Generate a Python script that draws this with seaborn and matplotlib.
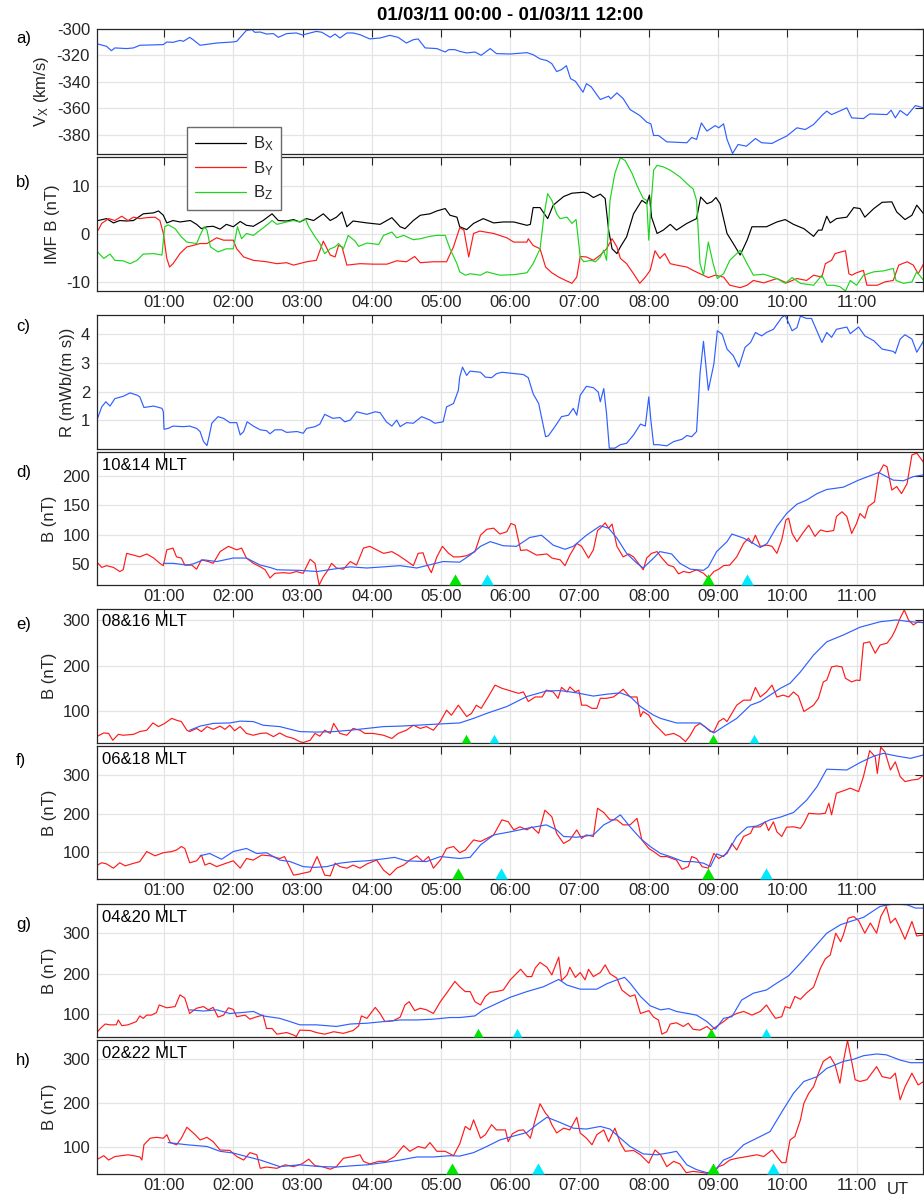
import matplotlib
matplotlib.use("Agg")
import matplotlib.pyplot as plt
from matplotlib.lines import Line2D
import seaborn as sns
import pandas as pd

# ---------------- data (time in hours UT, values) ----------------
vx = [(0.04,-311.3),(0.17,-313.1),(0.24,-316.4),(0.29,-314.3),(0.46,-314.8),(0.56,-314.3),(0.65,-312.3),
      (0.99,-311.8),(1.04,-309.8),(1.13,-310.1),(1.23,-308.6),(1.28,-309.3),(1.37,-306.3),(1.42,-308.1),
      (1.52,-312.3),(1.76,-310.6),(2.00,-309.8),(2.05,-309.3),(2.19,-301.0),(2.27,-300.5),(2.31,-302.5),
      (2.39,-302.3),(2.48,-303.8),(2.58,-303.5),(2.65,-306.3),(2.77,-303.5),(2.91,-303.0),(3.00,-304.5),
      (3.11,-303.0),(3.20,-301.8),(3.28,-302.5),(3.40,-306.3),(3.47,-303.8),(3.54,-306.8),(3.64,-303.0),
      (3.73,-303.0),(3.83,-304.3),(3.97,-307.5),(4.12,-306.8),(4.26,-304.8),(4.38,-306.3),(4.50,-310.6),
      (4.60,-308.1),(4.67,-307.5),(4.77,-314.3),(4.94,-314.8),(5.06,-317.4),(5.11,-315.6),(5.20,-315.6),
      (5.27,-316.9),(5.37,-318.1),(5.49,-317.4),(5.58,-319.9),(5.71,-314.8),(5.80,-318.6),(6.00,-318.9),
      (6.24,-317.9),(6.33,-319.4),(6.43,-322.6),(6.53,-323.9),(6.60,-326.2),(6.67,-332.2),(6.74,-330.7),
      (6.81,-327.7),(6.87,-337.5),(6.94,-339.5),(7.05,-347.8),(7.10,-341.3),(7.17,-343.8),(7.30,-353.3),
      (7.42,-350.8),(7.45,-352.8),(7.54,-348.3),(7.63,-352.6),(7.73,-360.9),(7.87,-365.4),(7.97,-370.4),
      (8.03,-371.7),(8.07,-380.5),(8.14,-380.5),(8.26,-385.3),(8.55,-386.0),(8.62,-382.0),(8.69,-383.5),
      (8.76,-371.0),(8.84,-377.2),(8.96,-373.0),(9.01,-374.7),(9.08,-371.7),(9.13,-383.5),(9.21,-394.1),
      (9.29,-387.3),(9.41,-388.6),(9.54,-382.8),(9.63,-386.0),(9.78,-386.5),(9.87,-384.0),(9.99,-381.0),
      (10.14,-374.7),(10.26,-376.0),(10.38,-372.2),(10.50,-365.4),(10.57,-362.1),(10.64,-364.7),
      (10.86,-359.6),(10.93,-367.2),(11.10,-367.7),(11.19,-364.2),(11.44,-364.7),(11.50,-361.4),
      (11.56,-367.2),(11.63,-361.6),(11.73,-365.4),(11.85,-357.9),(11.97,-359.6)]

bx = [(0.05,2.8),(0.17,3.2),(0.27,2.3),(0.36,2.8),(0.46,2.7),(0.56,2.8),(0.70,4.2),(0.85,4.4),(0.92,4.8),
      (0.99,3.9),(1.04,2.3),(1.13,2.8),(1.23,2.5),(1.38,2.8),(1.47,2.0),(1.54,1.1),(1.62,1.5),(1.71,1.6),
      (1.81,1.0),(1.90,2.0),(2.00,1.5),(2.10,2.6),(2.19,1.8),(2.29,1.6),(2.43,2.8),(2.56,4.2),(2.65,2.8),
      (2.77,2.7),(2.87,3.0),(2.96,2.5),(3.06,3.2),(3.16,2.8),(3.30,4.2),(3.40,2.8),(3.49,3.5),(3.57,4.6),
      (3.64,1.5),(3.73,2.7),(3.93,2.3),(4.12,2.0),(4.29,3.4),(4.41,1.5),(4.48,1.1),(4.60,2.8),(4.70,3.9),
      (4.84,4.2),(4.94,4.8),(5.06,5.3),(5.13,3.9),(5.23,3.5),(5.27,1.5),(5.37,0.9),(5.47,2.2),(5.61,3.2),
      (5.76,2.3),(5.90,2.5),(6.05,2.5),(6.24,1.8),(6.29,2.0),(6.33,5.5),(6.43,5.5),(6.54,3.2),(6.62,6.0),
      (6.77,7.8),(6.89,8.5),(7.06,8.7),(7.12,8.4),(7.20,7.6),(7.30,8.3),(7.37,7.4),(7.42,0.8),(7.47,-3.1),
      (7.54,-4.1),(7.59,-2.7),(7.68,-0.6),(7.78,4.2),(7.90,7.0),(7.97,6.3),(8.01,8.1),(8.04,3.5),(8.12,0.1),
      (8.21,0.8),(8.31,2.0),(8.40,0.8),(8.55,2.2),(8.69,3.2),(8.75,7.7),(8.84,6.3),(8.91,6.7),(8.97,7.6),
      (9.03,6.3),(9.13,0.1),(9.22,-2.0),(9.32,-4.4),(9.42,-1.3),(9.49,1.5),(9.70,1.5),(9.85,2.5),(9.97,3.0),
      (10.09,2.0),(10.24,1.1),(10.38,-0.5),(10.45,0.8),(10.50,0.8),(10.57,3.7),(10.62,2.3),(10.71,3.2),
      (10.86,3.5),(10.96,5.5),(11.05,5.3),(11.12,3.5),(11.25,5.3),(11.37,6.6),(11.51,6.7),(11.58,4.6),
      (11.70,3.0),(11.80,3.9),(11.87,6.0),(11.97,4.2)]

by = [(0.05,0.8),(0.10,2.2),(0.20,3.2),(0.29,2.8),(0.39,3.7),(0.48,2.8),(0.56,3.5),(0.65,3.2),(0.75,3.4),
      (0.87,3.5),(0.94,2.8),(0.99,0.1),(1.04,-5.1),(1.08,-6.9),(1.13,-6.2),(1.23,-4.1),(1.33,-2.7),
      (1.42,-2.4),(1.52,-2.0),(1.62,-2.0),(1.76,-0.8),(1.86,-1.3),(2.00,-1.3),(2.05,-3.1),(2.15,-4.8),
      (2.29,-5.5),(2.48,-5.8),(2.63,-6.2),(2.77,-6.0),(2.87,-6.5),(3.06,-5.8),(3.20,-5.5),(3.30,-1.5),
      (3.40,-4.4),(3.47,-4.8),(3.52,-2.4),(3.57,-2.7),(3.64,-6.5),(3.83,-6.2),(4.02,-6.3),(4.22,-6.3),
      (4.36,-5.6),(4.50,-5.8),(4.62,-4.7),(4.70,-6.0),(4.89,-5.8),(5.08,-5.8),(5.18,-2.7),(5.27,1.3),
      (5.33,0.8),(5.40,-4.8),(5.47,0.1),(5.56,0.6),(5.76,0.1),(5.95,-0.8),(6.05,-1.7),(6.24,-1.7),
      (6.26,-1.0),(6.33,-2.4),(6.43,-3.1),(6.51,-6.9),(6.60,-8.1),(6.70,-9.0),(6.77,-9.5),(6.89,-10.3),
      (6.96,-9.0),(7.01,-4.7),(7.10,-4.8),(7.20,-5.5),(7.30,-4.4),(7.39,-3.1),(7.47,-1.0),(7.54,-2.7),
      (7.59,-5.1),(7.68,-6.2),(7.78,-8.3),(7.87,-10.3),(7.95,-9.0),(8.02,-7.6),(8.09,-3.5),(8.16,-5.1),
      (8.23,-4.1),(8.31,-6.2),(8.40,-6.5),(8.55,-6.9),(8.64,-7.6),(8.74,-8.3),(8.86,-9.1),(8.96,-8.6),
      (9.08,-9.0),(9.17,-10.7),(9.32,-11.2),(9.42,-10.7),(9.51,-9.7),(9.66,-10.2),(9.85,-9.3),(9.99,-10.2),
      (10.14,-9.3),(10.28,-9.7),(10.38,-8.6),(10.50,-9.0),(10.55,-6.2),(10.64,-5.5),(10.69,-4.1),
      (10.84,-3.5),(10.89,-8.3),(10.93,-8.6),(11.00,-8.1),(11.10,-7.6),(11.15,-10.7),(11.30,-10.7),
      (11.41,-10.0),(11.53,-9.7),(11.61,-6.5),(11.73,-5.8),(11.82,-6.5),(11.89,-8.3),(11.97,-6.2)]

bz = [(0.04,-3.75),(0.13,-5.1),(0.22,-4.2),(0.29,-5.5),(0.41,-5.6),(0.51,-6.2),(0.61,-5.5),(0.70,-4.2),
      (0.85,-4.1),(0.97,-4.4),(1.01,1.5),(1.06,1.9),(1.16,1.1),(1.25,-0.6),(1.33,-1.7),(1.47,-2.0),
      (1.52,-0.3),(1.58,1.5),(1.62,0.8),(1.67,-2.7),(1.78,-3.75),(1.90,-3.1),(2.00,-3.1),(2.06,1.5),
      (2.12,-1.0),(2.19,0.1),(2.29,-0.3),(2.39,0.8),(2.48,1.8),(2.56,2.8),(2.63,2.0),(2.77,2.5),(2.87,2.8),
      (2.96,2.5),(3.04,3.2),(3.09,1.5),(3.18,-0.6),(3.25,-2.0),(3.32,-4.1),(3.40,-3.1),(3.47,-2.7),
      (3.52,-2.0),(3.59,-3.1),(3.66,-0.3),(3.76,-1.5),(3.81,-2.6),(3.93,-1.9),(4.10,-2.2),(4.17,-0.3),
      (4.29,0.4),(4.36,-0.8),(4.46,-0.3),(4.60,-1.2),(4.70,-1.0),(4.84,-0.5),(4.94,-0.3),(5.06,-0.3),
      (5.13,-3.1),(5.23,-6.2),(5.27,-7.9),(5.35,-8.6),(5.42,-8.3),(5.57,-8.6),(5.66,-7.9),(5.85,-8.6),
      (6.05,-8.5),(6.24,-8.1),(6.33,-6.2),(6.43,-3.1),(6.49,4.2),(6.54,8.4),(6.60,7.0),(6.67,4.2),
      (6.72,3.2),(6.82,3.5),(6.89,2.2),(6.95,3.0),(7.01,-4.8),(7.06,-5.8),(7.16,-5.5),(7.23,-5.8),
      (7.30,-4.8),(7.35,-3.4),(7.39,-5.5),(7.44,7.0),(7.51,12.6),(7.59,15.9),(7.66,15.3),(7.76,12.6),
      (7.83,10.1),(7.92,7.4),(7.97,7.0),(8.00,-1.3),(8.03,5.6),(8.07,13.3),(8.12,14.3),(8.21,14.0),
      (8.31,13.3),(8.45,11.9),(8.55,10.5),(8.64,9.4),(8.69,7.0),(8.74,-6.2),(8.79,-8.6),(8.86,-1.7),
      (8.93,-6.2),(8.99,-9.3),(9.08,-8.3),(9.17,-5.5),(9.32,-3.4),(9.42,-6.2),(9.51,-8.6),(9.66,-8.4),
      (9.85,-9.3),(9.97,-10.3),(10.07,-9.1),(10.19,-10.3),(10.38,-10.7),(10.50,-8.6),(10.57,-10.7),
      (10.67,-10.7),(10.76,-11.0),(10.84,-11.9),(10.91,-9.7),(11.00,-10.7),(11.10,-8.6),(11.25,-7.9),
      (11.39,-7.7),(11.53,-7.2),(11.57,-9.7),(11.68,-10.3),(11.80,-10.0),(11.87,-7.9),(11.97,-9.7)]

rr = [(0.04,1.07),(0.10,1.47),(0.16,1.65),(0.22,1.50),(0.29,1.76),(0.41,1.84),(0.51,1.96),(0.61,1.88),
      (0.65,1.82),(0.71,1.45),(0.85,1.50),(0.97,1.42),(0.99,1.30),(1.00,0.69),(1.06,0.72),(1.13,0.80),
      (1.28,0.78),(1.37,0.80),(1.47,0.72),(1.52,0.61),(1.57,0.26),(1.62,0.12),(1.65,0.43),(1.69,0.90),
      (1.78,1.13),(1.86,1.07),(1.95,0.92),(2.05,0.92),(2.10,0.49),(2.15,0.61),(2.20,0.95),(2.29,0.80),
      (2.39,0.67),(2.48,0.64),(2.53,0.53),(2.60,0.67),(2.70,0.67),(2.77,0.58),(2.92,0.61),(3.01,0.55),
      (3.06,0.72),(3.18,0.78),(3.25,0.87),(3.32,1.21),(3.44,1.07),(3.54,1.10),(3.61,0.95),(3.69,1.01),
      (3.78,1.30),(3.93,1.21),(4.05,1.30),(4.12,1.27),(4.21,0.95),(4.29,0.80),(4.36,1.01),(4.41,0.78),
      (4.50,0.92),(4.60,0.90),(4.72,1.13),(4.84,1.01),(4.91,0.90),(5.03,0.95),(5.08,1.47),(5.18,1.59),
      (5.25,2.05),(5.27,2.51),(5.31,2.86),(5.37,2.57),(5.42,2.72),(5.57,2.68),(5.64,2.51),(5.73,2.49),
      (5.80,2.63),(5.88,2.68),(6.00,2.65),(6.19,2.60),(6.26,2.49),(6.33,1.93),(6.41,1.59),(6.51,0.43),
      (6.55,0.46),(6.65,0.80),(6.74,1.13),(6.84,1.18),(6.91,1.42),(6.96,1.18),(7.01,1.88),(7.10,2.19),
      (7.20,2.14),(7.27,1.99),(7.30,1.65),(7.35,2.11),(7.39,1.24),(7.43,0.03),(7.51,0.03),(7.59,0.15),
      (7.68,0.20),(7.78,0.49),(7.88,0.87),(7.95,0.80),(8.00,1.82),(8.03,1.01),(8.07,0.15),(8.14,0.15),
      (8.26,0.11),(8.36,0.26),(8.48,0.34),(8.55,0.47),(8.62,0.43),(8.69,0.61),(8.74,2.63),(8.79,3.76),
      (8.86,2.05),(8.94,2.97),(8.99,4.13),(9.06,4.01),(9.13,3.49),(9.22,3.26),(9.30,2.86),(9.39,3.55),
      (9.47,3.72),(9.54,4.07),(9.63,3.95),(9.70,4.07),(9.80,4.18),(9.92,4.59),(9.97,4.67),(10.07,4.13),
      (10.14,4.24),(10.19,4.64),(10.28,4.56),(10.35,4.56),(10.50,3.72),(10.57,4.07),(10.64,3.90),
      (10.71,4.18),(10.86,4.26),(10.91,4.03),(11.03,4.26),(11.12,3.95),(11.25,3.78),(11.37,3.49),
      (11.53,3.41),(11.56,3.34),(11.63,3.84),(11.70,3.99),(11.80,3.84),(11.87,3.38),(11.97,3.78)]

d_obs = [(0.04,52),(0.10,44),(0.17,47),(0.27,44),(0.36,37),(0.41,40),(0.46,68),(0.56,65),(0.65,62),(0.75,67),
         (0.85,60),(0.94,51),(0.99,47),(1.04,74),(1.13,77),(1.18,62),(1.25,60),(1.30,48),(1.40,48),(1.47,41),
         (1.54,57),(1.64,54),(1.71,51),(1.81,71),(1.93,80),(2.05,74),(2.12,77),(2.19,60),(2.29,51),(2.39,45),
         (2.46,40),(2.53,26),(2.60,34),(2.72,35),(2.82,34),(2.91,37),(3.01,34),(3.11,58),(3.18,51),(3.24,14),
         (3.30,28),(3.37,40),(3.42,51),(3.49,43),(3.59,41),(3.69,54),(3.78,48),(3.88,77),(3.97,80),(4.07,74),
         (4.17,68),(4.29,71),(4.38,65),(4.48,57),(4.60,47),(4.67,68),(4.74,69),(4.79,51),(4.86,35),(4.94,62),
         (5.02,80),(5.11,68),(5.18,62),(5.27,62),(5.37,64),(5.49,71),(5.57,99),(5.66,109),(5.76,111),
         (5.85,101),(5.95,105),(6.01,119),(6.07,116),(6.15,73),(6.24,74),(6.38,65),(6.53,67),(6.60,60),
         (6.72,57),(6.79,47),(6.86,65),(6.96,85),(7.03,80),(7.13,60),(7.20,74),(7.26,107),(7.30,111),
         (7.37,120),(7.42,111),(7.47,118),(7.54,80),(7.63,62),(7.71,67),(7.78,62),(7.85,51),(7.92,40),
         (7.97,60),(8.04,68),(8.12,71),(8.19,60),(8.28,48),(8.36,45),(8.43,33),(8.50,37),(8.59,35),(8.69,40),
         (8.79,34),(8.86,26),(8.94,37),(9.01,41),(9.08,47),(9.17,48),(9.27,62),(9.37,85),(9.44,94),(9.49,85),
         (9.54,99),(9.61,80),(9.71,82),(9.78,80),(9.85,68),(9.92,91),(9.98,125),(10.02,128),(10.07,102),
         (10.14,88),(10.22,102),(10.31,116),(10.40,97),(10.48,108),(10.57,105),(10.67,107),(10.71,131),
         (10.79,139),(10.86,131),(10.93,102),(11.00,119),(11.05,136),(11.12,128),(11.17,148),(11.26,156),
         (11.32,204),(11.39,219),(11.44,216),(11.51,176),(11.58,182),(11.65,170),(11.73,187),(11.80,236),
         (11.87,239),(11.97,223)]
d_mod = [(0.99,51),(1.13,51),(1.33,48),(1.42,50),(1.57,57),(1.76,54),(2.00,60),(2.19,60),(2.39,48),(2.53,44),
         (2.63,40),(2.96,39),(3.21,37),(3.44,41),(3.69,45),(3.93,43),(4.17,45),(4.41,47),(4.65,43),(4.89,50),
         (5.03,54),(5.27,53),(5.42,65),(5.57,80),(5.71,88),(5.90,81),(6.09,80),(6.28,95),(6.45,99),(6.62,82),
         (6.79,75),(6.91,80),(7.10,99),(7.30,115),(7.42,111),(7.54,94),(7.68,68),(7.83,51),(7.92,43),(8.07,60),
         (8.16,71),(8.33,67),(8.45,51),(8.60,41),(8.79,39),(8.86,45),(8.98,71),(9.13,88),(9.20,101),(9.37,94),
         (9.51,85),(9.61,78),(9.71,85),(9.85,114),(9.99,136),(10.14,152),(10.28,159),(10.43,170),(10.57,177),
         (10.81,181),(11.03,193),(11.32,206),(11.53,193),(11.68,192),(11.82,199),(11.97,202)]

e_obs = [(0.04,45),(0.13,52),(0.20,51),(0.26,36),(0.34,49),(0.41,47),(0.56,49),(0.65,55),(0.75,58),(0.84,74),
         (0.92,66),(1.01,73),(1.11,84),(1.18,80),(1.25,77),(1.33,58),(1.37,55),(1.47,62),(1.54,55),(1.62,66),
         (1.71,60),(1.81,67),(1.88,60),(1.95,69),(2.02,57),(2.10,66),(2.19,51),(2.29,47),(2.39,51),(2.48,52),
         (2.58,44),(2.67,52),(2.77,44),(2.87,40),(2.96,33),(3.01,31),(3.11,36),(3.18,51),(3.25,45),(3.32,58),
         (3.40,51),(3.45,73),(3.54,51),(3.64,47),(3.73,62),(3.83,58),(3.90,51),(4.02,51),(4.17,47),(4.29,40),
         (4.38,51),(4.50,58),(4.60,69),(4.70,62),(4.79,66),(4.89,58),(4.99,77),(5.08,102),(5.15,91),(5.25,113),
         (5.37,88),(5.44,95),(5.51,113),(5.58,106),(5.68,131),(5.78,157),(5.88,150),(5.97,146),(6.05,142),
         (6.12,139),(6.19,142),(6.26,121),(6.36,131),(6.46,131),(6.52,146),(6.62,142),(6.69,128),(6.74,152),
         (6.82,142),(6.86,153),(6.94,142),(6.99,146),(7.03,113),(7.10,113),(7.18,106),(7.25,106),(7.30,128),
         (7.39,128),(7.49,131),(7.56,139),(7.63,148),(7.73,131),(7.83,131),(7.88,88),(7.92,99),(8.00,91),
         (8.07,73),(8.17,58),(8.24,47),(8.36,51),(8.45,44),(8.53,33),(8.60,47),(8.67,66),(8.74,73),(8.81,66),
         (8.89,55),(8.94,55),(9.01,77),(9.08,84),(9.13,77),(9.20,95),(9.27,113),(9.37,124),(9.47,124),
         (9.54,152),(9.61,131),(9.70,142),(9.78,157),(9.85,131),(9.94,135),(10.02,131),(10.09,142),(10.16,133),
         (10.24,99),(10.31,106),(10.38,113),(10.45,128),(10.52,164),(10.57,168),(10.64,197),(10.71,199),
         (10.79,197),(10.84,172),(10.93,164),(11.00,168),(11.05,167),(11.10,249),(11.19,252),(11.27,227),
         (11.34,245),(11.44,249),(11.51,263),(11.56,278),(11.63,304),(11.69,322),(11.75,300),(11.82,289),
         (11.89,296),(11.97,294)]
e_mod = [(1.37,58),(1.52,67),(1.71,73),(1.95,74),(2.10,78),(2.29,77),(2.43,69),(2.67,66),(2.96,55),(3.20,54),
         (3.45,55),(3.69,58),(3.93,62),(4.17,66),(4.41,67),(4.65,69),(4.89,71),(5.27,74),(5.47,84),(5.66,95),
         (5.95,110),(6.24,132),(6.52,144),(6.72,145),(6.96,140),(7.20,133),(7.39,137),(7.59,140),(7.73,132),
         (7.88,110),(8.07,91),(8.17,84),(8.40,74),(8.64,74),(8.74,74),(8.84,62),(8.94,52),(9.08,66),(9.27,84),
         (9.47,113),(9.61,121),(9.75,135),(9.90,150),(10.04,161),(10.19,186),(10.38,223),(10.57,252),
         (10.81,267),(11.05,284),(11.34,296),(11.58,300),(11.78,296),(11.97,294)]

f_obs = [(0.04,67),(0.10,73),(0.17,70),(0.27,59),(0.36,73),(0.44,65),(0.53,70),(0.65,76),(0.75,102),(0.87,91),
         (0.99,99),(1.11,102),(1.18,106),(1.25,115),(1.30,110),(1.37,73),(1.47,78),(1.54,93),(1.59,67),
         (1.66,72),(1.76,63),(1.90,72),(2.00,78),(2.10,59),(2.19,84),(2.29,80),(2.41,93),(2.53,91),(2.67,84),
         (2.74,89),(2.87,41),(2.96,44),(3.11,50),(3.21,89),(3.25,72),(3.32,41),(3.40,39),(3.47,72),(3.54,63),
         (3.64,59),(3.73,67),(3.83,59),(3.93,70),(4.07,80),(4.17,54),(4.26,41),(4.36,59),(4.46,67),(4.55,80),
         (4.65,91),(4.74,76),(4.82,89),(4.89,59),(4.99,80),(5.08,110),(5.18,115),(5.27,99),(5.35,106),
         (5.47,132),(5.57,128),(5.66,136),(5.76,145),(5.88,184),(5.97,179),(6.05,158),(6.14,166),(6.24,158),
         (6.31,166),(6.41,149),(6.50,209),(6.60,192),(6.67,149),(6.77,123),(6.86,132),(6.96,158),(7.03,136),
         (7.10,145),(7.20,141),(7.26,214),(7.35,203),(7.44,184),(7.54,184),(7.63,171),(7.73,171),(7.83,188),
         (7.90,132),(8.00,110),(8.07,102),(8.17,89),(8.26,89),(8.40,80),(8.48,56),(8.57,63),(8.62,89),
         (8.69,84),(8.77,63),(8.86,59),(8.94,97),(9.01,84),(9.13,97),(9.20,123),(9.27,106),(9.37,141),
         (9.47,149),(9.51,165),(9.61,166),(9.68,179),(9.73,156),(9.80,179),(9.85,153),(9.92,141),(9.99,165),
         (10.09,166),(10.19,162),(10.24,175),(10.31,201),(10.45,199),(10.55,201),(10.60,227),(10.64,197),
         (10.71,253),(10.84,261),(10.91,266),(11.03,257),(11.10,296),(11.19,363),(11.27,347),(11.30,304),
         (11.35,372),(11.41,360),(11.49,313),(11.56,334),(11.63,296),(11.70,283),(11.80,287),(11.89,289),
         (11.97,300)]
f_mod = [(1.52,91),(1.66,97),(1.83,82),(2.00,102),(2.19,110),(2.34,97),(2.48,99),(2.67,80),(2.82,76),(3.01,63),
         (3.16,61),(3.35,63),(3.54,72),(3.73,76),(3.93,78),(4.12,82),(4.33,87),(4.50,78),(4.79,76),(4.99,89),
         (5.27,84),(5.42,87),(5.57,119),(5.76,145),(6.00,153),(6.24,162),(6.52,171),(6.67,158),(6.77,141),
         (6.96,139),(7.20,145),(7.35,171),(7.49,184),(7.59,197),(7.73,166),(7.88,136),(8.02,115),(8.17,97),
         (8.31,89),(8.50,76),(8.64,76),(8.79,72),(8.89,63),(8.98,96),(9.08,89),(9.17,110),(9.27,141),
         (9.42,165),(9.56,168),(9.75,184),(9.90,191),(10.09,203),(10.28,235),(10.43,270),(10.57,315),
         (10.86,313),(11.05,332),(11.25,349),(11.39,356),(11.58,349),(11.78,343),(11.97,352)]

g_obs = [(0.04,57),(0.08,65),(0.15,76),(0.22,74),(0.31,74),(0.34,86),(0.39,72),(0.48,74),(0.60,82),(0.65,96),
         (0.70,90),(0.75,98),(0.82,98),(0.89,104),(0.93,123),(1.04,116),(1.16,119),(1.23,148),(1.30,140),
         (1.37,102),(1.47,115),(1.57,119),(1.64,111),(1.71,117),(1.78,93),(1.86,98),(1.93,116),(2.00,112),
         (2.05,94),(2.17,98),(2.24,88),(2.34,94),(2.43,98),(2.48,65),(2.56,65),(2.63,51),(2.77,55),(2.87,49),
         (2.91,45),(2.96,61),(3.11,60),(3.20,55),(3.32,51),(3.45,57),(3.59,53),(3.73,60),(3.81,71),(3.85,96),
         (3.93,90),(4.05,117),(4.12,102),(4.19,82),(4.31,84),(4.41,93),(4.48,123),(4.54,131),(4.62,109),
         (4.70,115),(4.79,111),(4.89,102),(4.99,131),(5.08,152),(5.20,181),(5.27,168),(5.35,156),(5.42,156),
         (5.49,131),(5.57,123),(5.64,144),(5.71,154),(5.80,156),(5.90,160),(6.00,185),(6.15,211),(6.24,193),
         (6.31,193),(6.36,214),(6.43,228),(6.53,216),(6.60,197),(6.70,241),(6.74,183),(6.82,197),(6.86,216),
         (6.94,191),(7.01,203),(7.08,185),(7.13,211),(7.20,193),(7.30,203),(7.37,222),(7.44,200),(7.54,189),
         (7.61,160),(7.73,144),(7.80,148),(7.88,102),(8.00,109),(8.07,93),(8.14,86),(8.19,51),(8.26,57),
         (8.31,76),(8.40,79),(8.50,70),(8.57,78),(8.64,63),(8.74,61),(8.84,70),(8.90,61),(8.98,70),(9.08,82),
         (9.17,94),(9.27,102),(9.37,107),(9.49,98),(9.61,107),(9.70,123),(9.78,102),(9.83,90),(9.92,94),
         (9.97,119),(10.04,115),(10.11,144),(10.19,137),(10.28,153),(10.38,167),(10.48,214),(10.55,237),
         (10.62,246),(10.70,300),(10.77,279),(10.81,296),(10.88,337),(10.96,341),(11.03,331),(11.12,300),
         (11.20,325),(11.29,300),(11.35,341),(11.43,366),(11.49,325),(11.56,337),(11.63,312),(11.70,285),
         (11.80,329),(11.87,293),(11.97,296)]
g_mod = [(1.37,111),(1.57,108),(1.76,111),(1.95,102),(2.10,104),(2.29,107),(2.43,96),(2.67,90),(2.82,82),
         (2.96,74),(3.20,74),(3.49,70),(3.69,76),(3.93,78),(4.17,82),(4.41,86),(4.65,86),(4.89,88),(5.13,92),
         (5.27,92),(5.49,96),(5.61,111),(5.76,123),(6.00,142),(6.24,156),(6.48,168),(6.70,186),(6.82,172),
         (7.01,162),(7.25,162),(7.39,175),(7.54,185),(7.65,191),(7.73,177),(7.88,144),(8.02,121),(8.17,111),
         (8.29,114),(8.40,107),(8.69,98),(8.84,82),(8.96,63),(9.08,90),(9.20,94),(9.34,135),(9.51,152),
         (9.70,160),(9.85,177),(10.02,195),(10.19,226),(10.38,263),(10.57,300),(10.77,321),(10.91,329),
         (11.10,339),(11.34,366),(11.53,372),(11.73,370),(11.85,362),(11.97,362)]

h_obs = [(0.04,71),(0.13,79),(0.20,69),(0.29,77),(0.39,79),(0.48,81),(0.56,79),(0.65,76),(0.68,69),(0.71,104),
         (0.80,119),(0.89,121),(0.99,119),(1.04,127),(1.09,109),(1.18,104),(1.25,119),(1.33,144),(1.45,127),
         (1.52,115),(1.62,121),(1.71,111),(1.81,92),(1.95,91),(2.05,77),(2.15,69),(2.24,86),(2.34,81),
         (2.39,50),(2.48,53),(2.63,50),(2.75,58),(2.87,54),(2.99,60),(3.09,71),(3.18,56),(3.28,54),(3.40,48),
         (3.49,54),(3.59,73),(3.73,77),(3.83,81),(3.88,66),(3.97,60),(4.10,66),(4.21,66),(4.33,77),(4.46,102),
         (4.55,89),(4.67,100),(4.77,96),(4.84,109),(4.94,89),(5.06,89),(5.18,79),(5.27,106),(5.35,146),
         (5.42,138),(5.47,161),(5.57,119),(5.64,127),(5.73,150),(5.80,138),(5.93,138),(5.97,111),(6.03,129),
         (6.12,137),(6.19,138),(6.29,119),(6.36,161),(6.43,198),(6.51,176),(6.55,169),(6.60,150),(6.67,131),
         (6.77,142),(6.86,138),(6.96,167),(7.01,131),(7.10,119),(7.18,104),(7.25,127),(7.35,138),(7.42,111),
         (7.51,142),(7.59,108),(7.66,89),(7.78,91),(7.88,81),(8.00,62),(8.09,92),(8.17,81),(8.26,54),(8.36,66),
         (8.45,60),(8.54,40),(8.64,43),(8.79,40),(8.89,37),(8.96,45),(9.01,54),(9.08,58),(9.17,69),(9.27,73),
         (9.42,77),(9.56,81),(9.66,77),(9.78,92),(9.85,77),(9.92,63),(9.98,63),(10.04,115),(10.11,123),
         (10.19,161),(10.24,199),(10.31,222),(10.38,237),(10.45,268),(10.52,295),(10.62,306),(10.69,287),
         (10.76,245),(10.81,295),(10.87,343),(10.93,295),(10.98,253),(11.05,249),(11.15,253),(11.22,268),
         (11.29,283),(11.37,260),(11.49,256),(11.56,268),(11.63,207),(11.70,237),(11.80,268),(11.89,241),
         (11.97,249)]
h_mod = [(1.06,109),(1.33,104),(1.62,100),(1.81,89),(2.00,85),(2.19,77),(2.39,69),(2.67,54),(2.96,58),(3.25,54),
         (3.49,53),(3.73,56),(3.93,58),(4.17,63),(4.41,69),(4.65,76),(4.89,76),(5.13,79),(5.27,78),(5.47,86),
         (5.66,100),(5.85,115),(6.05,124),(6.24,132),(6.38,150),(6.53,167),(6.72,155),(6.91,142),(7.10,140),
         (7.30,146),(7.44,140),(7.59,119),(7.73,100),(7.92,83),(8.12,81),(8.31,86),(8.40,89),(8.55,58),
         (8.69,47),(8.84,40),(8.94,43),(9.08,69),(9.20,77),(9.37,104),(9.56,119),(9.75,134),(9.94,184),
         (10.09,222),(10.24,249),(10.43,260),(10.57,279),(10.81,295),(10.96,300),(11.10,308),(11.29,312),
         (11.43,310),(11.63,298),(11.78,292),(11.97,292)]

# onset markers (hours): green and cyan triangles per panel d-h
onset_green = {"d": [5.20, 8.86], "e": [5.36, 8.93], "f": [5.24, 8.86], "g": [5.53, 8.90], "h": [5.16, 8.93]}
onset_cyan = {"d": [5.67, 9.42], "e": [5.77, 9.52], "f": [5.87, 9.70], "g": [6.10, 9.70], "h": [6.40, 9.79]}

mlt_labels = {"d": "10&14 MLT", "e": "08&16 MLT", "f": "06&18 MLT", "g": "04&20 MLT", "h": "02&22 MLT"}
hour_ticks = list(range(1, 12))
hour_labels = ["%02d:00" % h for h in hour_ticks]

# ---------------- style ----------------
sns.set_theme(style="white")
plt.rcParams["font.family"] = ["Liberation Sans", "DejaVu Sans"]
plt.rcParams["mathtext.default"] = "regular"
plt.rcParams["axes.unicode_minus"] = False

W, H = 924, 1201
fig = plt.figure(figsize=(W / 100, H / 100), dpi=100)

# panel pixel extents (top, bottom)
extents = {"a": (29, 154), "b": (157, 291), "c": (315, 449), "d": (452, 585),
           "e": (609, 743), "f": (746, 879), "g": (904, 1037), "h": (1040, 1174)}
letter_y = {"a": 38, "b": 182, "c": 327, "d": 472, "e": 624, "f": 760, "g": 924, "h": 1061}
L, R = 97, 923
AX_COL = "#262626"
BLUE, RED, GREEN, BLACK = "#2f5fff", "#ff1a1a", "#1ed51e", "#000000"


def line(ax, pts, color, lw=0.85):
    df = pd.DataFrame(pts, columns=["t", "v"])
    sns.lineplot(data=df, x="t", y="v", ax=ax, color=color, lw=lw, errorbar=None, sort=False,
                 estimator=None, legend=False)


axes = {}
for k, (top, bot) in extents.items():
    ax = fig.add_axes([L / W, 1 - bot / H, (R - L) / W, (bot - top) / H])
    axes[k] = ax

# a) Vx
ax = axes["a"]
line(ax, vx, BLUE)
ax.set_ylim(-394.5, -300)
ax.set_yticks([-380, -360, -340, -320, -300])
ax.set_ylabel("V$_X$ (km/s)", fontsize=12, color=AX_COL, labelpad=4)

# b) IMF
ax = axes["b"]
line(ax, bx, BLACK)
line(ax, by, RED)
line(ax, bz, GREEN)
ax.set_ylim(-11.9, 16.05)
ax.set_yticks([-10, 0, 10])
ax.set_ylabel("IMF B (nT)", fontsize=12, color=AX_COL, labelpad=4)

# c) R
ax = axes["c"]
line(ax, rr, BLUE)
ax.set_ylim(0.0, 4.68)
ax.set_yticks([1, 2, 3, 4])
ax.set_ylabel("R (mWb/(m s))", fontsize=12, color=AX_COL, labelpad=4)

panel_data = {"d": (d_obs, d_mod, (14, 241), [50, 100, 150, 200]),
              "e": (e_obs, e_mod, (30, 324), [100, 200, 300]),
              "f": (f_obs, f_mod, (31, 375), [100, 200, 300]),
              "g": (g_obs, g_mod, (44, 372), [100, 200, 300]),
              "h": (h_obs, h_mod, (37, 344), [100, 200, 300])}
marker_size = {"d": 16, "e": 12.5, "f": 16, "g": 12.5, "h": 16}
tri = [(-1, 0), (1, 0), (0, 1.75)]

for k, (obs, mod, yl, yt) in panel_data.items():
    ax = axes[k]
    line(ax, obs, RED)
    line(ax, mod, BLUE)
    ax.set_ylim(*yl)
    ax.set_yticks(yt)
    ax.set_ylabel("B (nT)", fontsize=12, color=AX_COL, labelpad=4)
    ax.text(0.006, 1 - 13 / ((extents[k][1] - extents[k][0])), mlt_labels[k], transform=ax.transAxes,
            fontsize=12, va="center", ha="left", color="black")
    ms = marker_size[k]
    ax.plot(onset_green[k], [yl[0]] * 2, ls="none", marker=tri, ms=ms, color="#00e600",
            mec="none", clip_on=False, zorder=10)
    ax.plot(onset_cyan[k], [yl[0]] * 2, ls="none", marker=tri, ms=ms, color="#00eaff",
            mec="none", clip_on=False, zorder=10)

# common axis styling (after seaborn, which sets its own labels)
for k, ax in axes.items():
    ax.set_xlabel("")
    ax.set_xlim(0.032, 11.96)
    ax.set_xticks(hour_ticks)
    ax.grid(True, color="#e4e4e4", lw=0.9)
    ax.set_axisbelow(True)
    ax.tick_params(direction="in", top=True, right=True, length=5.5, width=0.8,
                   colors=AX_COL, labelsize=12, pad=5)
    ax.tick_params(axis="x", pad=3)
    for s in ax.spines.values():
        s.set_color(AX_COL)
        s.set_linewidth(0.9)
    if k in ("b", "d", "f", "h"):
        ax.set_xticklabels(hour_labels)
    else:
        ax.tick_params(labelbottom=False)
    fig.text(16 / W, 1 - letter_y[k] / H, k + ")", fontsize=12, va="center", ha="left", color="black")

# title
fig.text(510 / W, 1 - 15 / H, "01/03/11 00:00 - 01/03/11 12:00", fontsize=13.5, fontweight="bold",
         ha="center", va="center", color="black")
# UT label
fig.text(898 / W, 1 - 1189 / H, "UT", fontsize=12, ha="center", va="center", color=AX_COL)

# legend
handles = [Line2D([], [], color=BLACK, lw=0.9), Line2D([], [], color=RED, lw=0.9),
           Line2D([], [], color=GREEN, lw=0.9)]
leg = fig.legend(handles, ["B$_X$", "B$_Y$", "B$_Z$"], loc="upper left",
                 bbox_to_anchor=(187 / W, 1 - 127 / H), bbox_transform=fig.transFigure,
                 frameon=True, fancybox=False, framealpha=1, edgecolor="#6a6a6a", fontsize=12,
                 handlelength=3.1, handletextpad=0.4, labelspacing=0.35, borderpad=0.45,
                 borderaxespad=0)
leg.get_frame().set_linewidth(1.0)

fig.savefig("out.png", dpi=100)
